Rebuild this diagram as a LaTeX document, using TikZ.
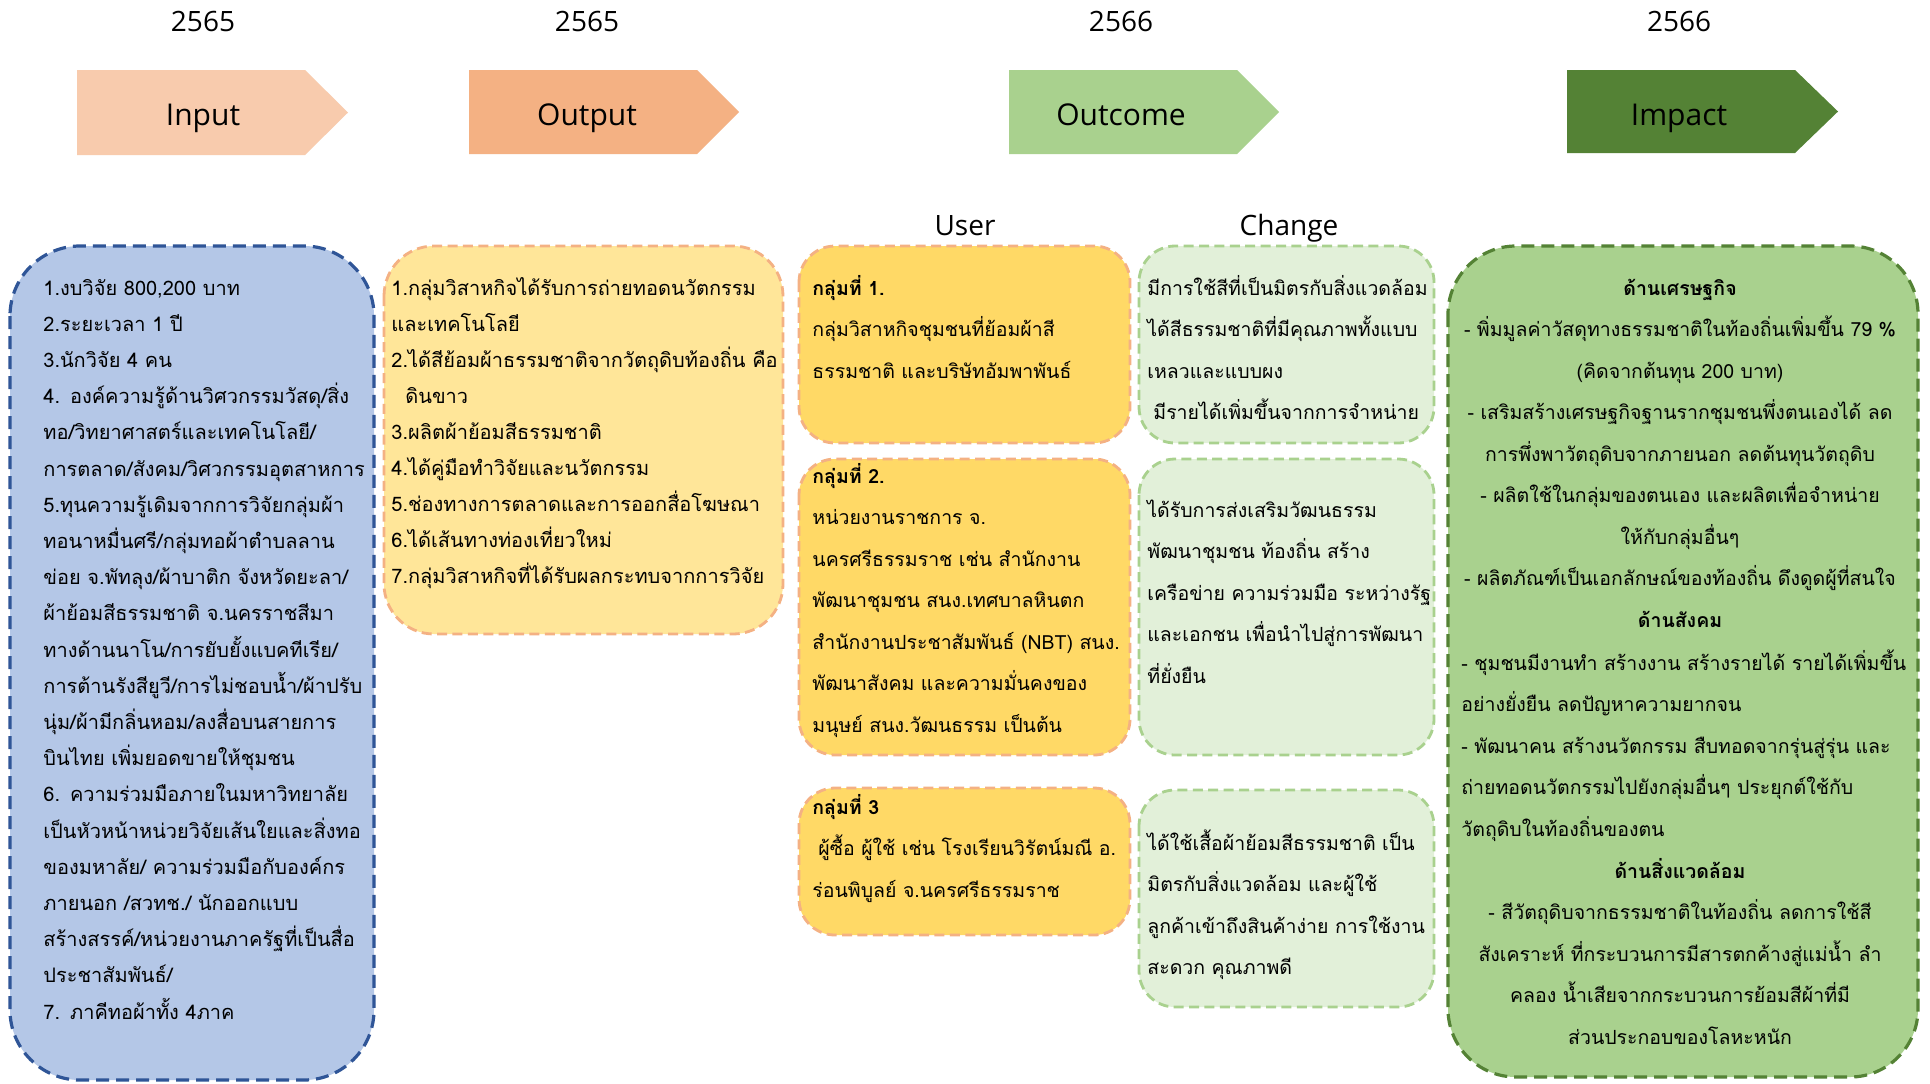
\documentclass[tikz,border=0pt]{standalone}
\usepackage{fontspec}
\setmainfont{Open Sans}
\newfontfamily\thai[Script=Thai]{Loma}
\newcommand\tightlines{\lineskiplimit-100pt\relax}
\newcommand\narrowsp{\spaceskip0.85\fontdimen2\font plus 0.5\fontdimen3\font minus 0.5\fontdimen4\font\relax}
\definecolor{inArrow}{HTML}{F8CBAD}
\definecolor{outArrow}{HTML}{F4B183}
\definecolor{ocArrow}{HTML}{A9D18E}
\definecolor{imArrow}{HTML}{548235}
\definecolor{blueFill}{HTML}{B4C7E7}
\definecolor{blueLine}{HTML}{2F5597}
\definecolor{yelFill}{HTML}{FFE699}
\definecolor{goldFill}{HTML}{FFD966}
\definecolor{paleGreen}{HTML}{E2F0D9}
\tikzset{
  yr/.style={font=\fontsize{14}{16}\selectfont, inner sep=0, anchor=base},
  arrlabel/.style={font=\fontsize{15}{18}\selectfont, inner sep=0, anchor=base},
  dashbox/.style={line width=1.4pt, dash pattern=on 5pt off 2.7pt},
  inbox/.style={dashbox, fill=blueFill, draw=blueLine, line width=1.6pt, dash pattern=on 6.5pt off 3.5pt, rounded corners=35pt},
  outbox/.style={dashbox, fill=yelFill, draw=outArrow, rounded corners=25pt},
  userbox/.style={dashbox, fill=goldFill, draw=outArrow, rounded corners=18pt},
  chgbox/.style={dashbox, fill=paleGreen, draw=ocArrow, rounded corners=18pt},
  impbox/.style={dashbox, fill=ocArrow, draw=imArrow, line width=1.6pt, dash pattern=on 6.5pt off 3.5pt, rounded corners=34pt},
  tA/.style={inner sep=0, anchor=base west, align=left, text width=300pt,
    font={\thai\fontsize{10}{18.1}\selectfont\tightlines}},
  tA2/.style={inner sep=0, anchor=base west, align=left, text width=300pt,
    font={\thai\fontsize{10}{18}\selectfont\tightlines}},
  tB/.style={inner sep=0, anchor=base west, align=left, text width=300pt,
    font={\thai\fontsize{9.75}{20.75}\selectfont\tightlines\narrowsp}},
  tC/.style={inner sep=0, anchor=base, align=center, text width=300pt,
    font={\thai\fontsize{9.75}{20.75}\selectfont\tightlines\narrowsp}},
}
\begin{document}
\begin{tikzpicture}[x=0.5pt,y=-0.5pt]
\fill[white] (0,0) rectangle (1930,1083);
\useasboundingbox (0,0) rectangle (1930,1083);

% header arrows
\fill[inArrow]  (77,70) -- (305,70) -- (348,112.5) -- (305,155) -- (77,155) -- cycle;
\fill[outArrow] (469,70) -- (697,70) -- (739,112) -- (697,154) -- (469,154) -- cycle;
\fill[ocArrow]  (1009,70) -- (1237,70) -- (1279,112) -- (1237,154) -- (1009,154) -- cycle;
\fill[imArrow]  (1567,70) -- (1795,70) -- (1838,111.5) -- (1795,153) -- (1567,153) -- cycle;

\node[arrlabel] (lin)  at (203,125) {Input};
\node[arrlabel] (lout) at (587,125) {Output};
\node[arrlabel] (loc)  at (1121,125) {Outcome};
\node[arrlabel] (limp) at (1679,125) {Impact};

\node[yr] (y1) at (203,31) {2565};
\node[yr] (y2) at (587,31) {2565};
\node[yr] (y3) at (1121,31) {2566};
\node[yr] (y4) at (1679,31) {2566};

\node[yr] (huser) at (965,235) {User};
\node[yr] (hchg)  at (1289,235) {Change};

% boxes
\draw[inbox]  (10,246) rectangle (374,1080);
\draw[outbox] (384,246) rectangle (783,634);
\draw[userbox] (799,246) rectangle (1130,443);
\draw[userbox] (799,459) rectangle (1130,755);
\draw[userbox] (799,788) rectangle (1130,935);
\draw[chgbox] (1139,246) rectangle (1434,443);
\draw[chgbox] (1139,459) rectangle (1434,755);
\draw[chgbox] (1139,790) rectangle (1434,1007);
\draw[impbox] (1448,246) rectangle (1918,1077);

% input text
\node[tA] (tin) at (43,295) {1.งบวิจัย 800,200 บาท\\
2.ระยะเวลา 1 ปี\\
3.นักวิจัย 4 คน\\
4. องค์ความรู้ด้านวิศวกรรมวัสดุ/สิ่ง\\
ทอ/วิทยาศาสตร์และเทคโนโลยี/\\
การตลาด/สังคม/วิศวกรรมอุตสาหการ\\
5.ทุนความรู้เดิมจากการวิจัยกลุ่มผ้า\\
ทอนาหมื่นศรี/กลุ่มทอผ้าตำบลลาน\\
ข่อย จ.พัทลุง/ผ้าบาติก จังหวัดยะลา/\\
ผ้าย้อมสีธรรมชาติ จ.นครราชสีมา\\
ทางด้านนาโน/การยับยั้งแบคทีเรีย/\\
การต้านรังสียูวี/การไม่ชอบน้ำ/ผ้าปรับ\\
นุ่ม/ผ้ามีกลิ่นหอม/ลงสื่อบนสายการ\\
บินไทย เพิ่มยอดขายให้ชุมชน\\
6. ความร่วมมือภายในมหาวิทยาลัย\\
เป็นหัวหน้าหน่วยวิจัยเส้นใยและสิ่งทอ\\
ของมหาลัย/ ความร่วมมือกับองค์กร\\
ภายนอก /สวทช./ นักออกแบบ\\
สร้างสรรค์/หน่วยงานภาครัฐที่เป็นสื่อ\\
ประชาสัมพันธ์/\\
7. ภาคีทอผ้าทั้ง 4ภาค};

% output text
\node[tA2] (tout) at (391,295) {1.กลุ่มวิสาหกิจได้รับการถ่ายทอดนวัตกรรม\\
และเทคโนโลยี\\
2.ได้สีย้อมผ้าธรรมชาติจากวัตถุดิบท้องถิ่น คือ\\
\hspace*{7pt}ดินขาว\\
3.ผลิตผ้าย้อมสีธรรมชาติ\\
4.ได้คู่มือทำวิจัยและนวัตกรรม\\
5.ช่องทางการตลาดและการออกสื่อโฆษณา\\
6.ได้เส้นทางท่องเที่ยวใหม่\\
7.กลุ่มวิสาหกิจที่ได้รับผลกระทบจากการวิจัย};

% user groups
\node[tB] (tu1) at (812,295) {\textbf{กลุ่มที่ 1.}\\
กลุ่มวิสาหกิจชุมชนที่ย้อมผ้าสี\\
ธรรมชาติ และบริษัทอัมพาพันธ์};
\node[tB] (tu2) at (812,483) {\textbf{กลุ่มที่ 2.}\\
หน่วยงานราชการ จ.\\
นครศรีธรรมราช เช่น สำนักงาน\\
พัฒนาชุมชน สนง.เทศบาลหินตก\\
สำนักงานประชาสัมพันธ์ (NBT) สนง.\\
พัฒนาสังคม และความมั่นคงของ\\
มนุษย์ สนง.วัฒนธรรม เป็นต้น};
\node[tB] (tu3) at (812,814) {\textbf{กลุ่มที่ 3}\\
\hspace*{3pt}ผู้ซื้อ ผู้ใช้ เช่น โรงเรียนวิรัตน์มณี อ.\\
ร่อนพิบูลย์ จ.นครศรีธรรมราช};

% change
\node[tB] (tc1) at (1147,295) {มีการใช้สีที่เป็นมิตรกับสิ่งแวดล้อม\\
ได้สีธรรมชาติที่มีคุณภาพทั้งแบบ\\
เหลวและแบบผง\\
\hspace*{3pt}มีรายได้เพิ่มขึ้นจากการจำหน่าย};
\node[tB] (tc2) at (1147,517) {ได้รับการส่งเสริมวัฒนธรรม\\
พัฒนาชุมชน ท้องถิ่น สร้าง\\
เครือข่าย ความร่วมมือ ระหว่างรัฐ\\
และเอกชน เพื่อนำไปสู่การพัฒนา\\
ที่ยั่งยืน};
\node[tB] (tc3) at (1147,850) {ได้ใช้เสื้อผ้าย้อมสีธรรมชาติ เป็น\\
มิตรกับสิ่งแวดล้อม และผู้ใช้\\
ลูกค้าเข้าถึงสินค้าง่าย การใช้งาน\\
สะดวก คุณภาพดี};

% impact
\node[tC] (ti1) at (1680,295) {\textbf{ด้านเศรษฐกิจ}\\
- พิ่มมูลค่าวัสดุทางธรรมชาติในท้องถิ่นเพิ่มขึ้น 79 \%\\
(คิดจากต้นทุน 200 บาท)\\
- เสริมสร้างเศรษฐกิจฐานรากชุมชนพึ่งตนเองได้ ลด\\
การพึ่งพาวัตถุดิบจากภายนอก ลดต้นทุนวัตถุดิบ\\
- ผลิตใช้ในกลุ่มของตนเอง และผลิตเพื่อจำหน่าย\\
ให้กับกลุ่มอื่นๆ\\
- ผลิตภัณฑ์เป็นเอกลักษณ์ของท้องถิ่น ดึงดูดผู้ที่สนใจ\\
\textbf{ด้านสังคม}};
\node[tB] (ti2) at (1461,670) {- ชุมชนมีงานทำ สร้างงาน สร้างรายได้ รายได้เพิ่มขึ้น\\
อย่างยั่งยืน ลดปัญหาความยากจน\\
- พัฒนาคน สร้างนวัตกรรม สืบทอดจากรุ่นสู่รุ่น และ\\
ถ่ายทอดนวัตกรรมไปยังกลุ่มอื่นๆ ประยุกต์ใช้กับ\\
วัตถุดิบในท้องถิ่นของตน};
\node[tC] (ti3) at (1680,878) {\textbf{ด้านสิ่งแวดล้อม}\\
- สีวัตถุดิบจากธรรมชาติในท้องถิ่น ลดการใช้สี\\
สังเคราะห์ ที่กระบวนการมีสารตกค้างสู่แม่น้ำ ลำ\\
คลอง น้ำเสียจากกระบวนการย้อมสีผ้าที่มี\\
ส่วนประกอบของโลหะหนัก};
\end{tikzpicture}
\end{document}
